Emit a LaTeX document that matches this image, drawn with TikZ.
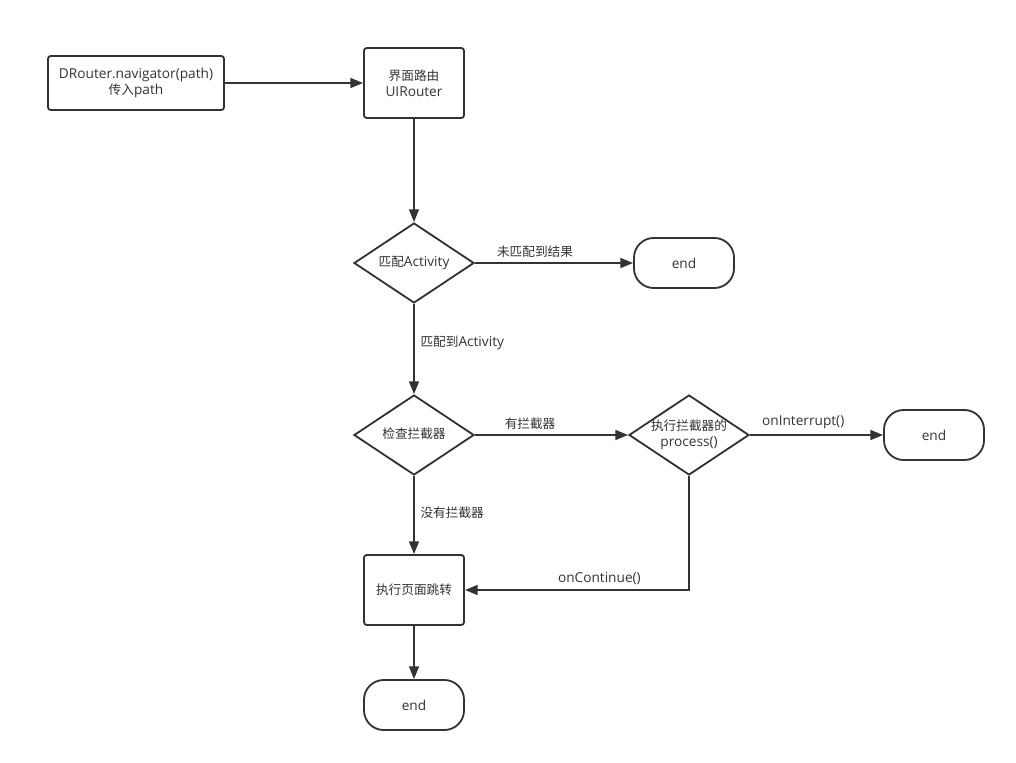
\documentclass[tikz,border=0pt]{standalone}
\usepackage{fontspec}
\setmainfont{Open Sans}[Scale=1.08]
\newfontfamily\cjk{Noto Sans CJK SC}
\usetikzlibrary{arrows.meta, calc, positioning, shapes.geometric}
\definecolor{flow-dark}{RGB}{51,51,51}
\newcommand{\slimtext}[1]{\makebox[0pt]{\begin{tabular}{@{}c@{}}#1\end{tabular}}}
\tikzset{%
  every path/.style={line width=1.3pt, flow-dark},
    edge/.style={%
        -{Triangle[length=9pt, width=7pt]},
    },
    action/.style={%
        rectangle,
        draw=flow-dark,
        fill=white,
        rounded corners=2pt,
        text=flow-dark,
        font=\fontsize{9pt}{11.5pt}\selectfont,
        align=center,
        inner sep=0pt,
    },
    terminal/.style={%
        rectangle,
        draw=flow-dark,
        rounded corners=14pt,
        minimum width=2.5cm,
        minimum height=1.25cm,
        text=flow-dark,
        font=\fontsize{9pt}{11pt}\selectfont,
        inner sep=0pt,
    },
    decision/.style={%
        diamond,
        draw=flow-dark,
        aspect=1.5,
        minimum width=3cm,
        minimum height=2cm,
        inner sep=0pt,
        text=flow-dark,
        font=\fontsize{9pt}{11.5pt}\selectfont,
    },
    tag/.style={%
        text=flow-dark,
        font=\fontsize{9pt}{11pt}\selectfont,
        inner sep=2pt,
    },
    tag above/.style={%
        tag, above, inner sep=3.5pt,
    },
}

\begin{document}
\begin{tikzpicture}[x=0.025cm, y=-0.025cm]
  \useasboundingbox (0, 0) rectangle (1016, 762);
  \coordinate (top_left) at (136, 83);
  \coordinate (main_col) at (414, 83);

  \node [action, minimum width=4.4cm, minimum height=1.35cm] at (top_left) (navigator) {DRouter.navigator(path)\\{\cjk 传入}path};
  \node [action, minimum width=2.5cm, minimum height=1.75cm] at (main_col) (uirouter) {{\cjk 界面路由}\\UIRouter};

  \node [decision] at (414, 263) (match) {\slimtext{{\cjk 匹配}Activity}};
  \node [terminal] at (684, 263) (end_nomatch) {end};

  \node [decision] at (414, 435) (check) {\slimtext{\cjk 检查拦截器}};
  \node [decision] at (689, 435) (process) {\slimtext{{\cjk 执行拦截器的}\\process()}};
  \node [terminal] at (934, 435) (end_interrupt) {end};

  \node [action, minimum width=2.5cm, minimum height=1.75cm] at (414, 590) (jump) {\cjk 执行页面跳转};
  \node [terminal] at (414, 705) (end_jump) {end};

  \draw[edge] (navigator) -- (uirouter);
  \draw[edge] (uirouter) -- (match);

  \draw[edge] (match.east) -- node[tag above, pos=0.38] {\cjk 未匹配到结果} (end_nomatch);
  \draw[edge] (match.south) -- node[tag, right, pos=0.43, xshift=2pt] {{\cjk 匹配到}Activity} (check.north);

  \draw[edge] (check.east) -- node[tag above, pos=0.36] {\cjk 有拦截器} (process.west);
  \draw[edge] (process.east) -- node[tag above, pos=0.4] {onInterrupt()} (end_interrupt);
  \draw[edge] (check.south) -- node[tag, right, pos=0.475, xshift=2pt] {\cjk 没有拦截器} (jump);
  \draw[edge] (process.south) |- node[tag above, pos=0.7] {onContinue()} (jump.east);

  \draw[edge] (jump) -- (end_jump);
\end{tikzpicture}
\end{document}
